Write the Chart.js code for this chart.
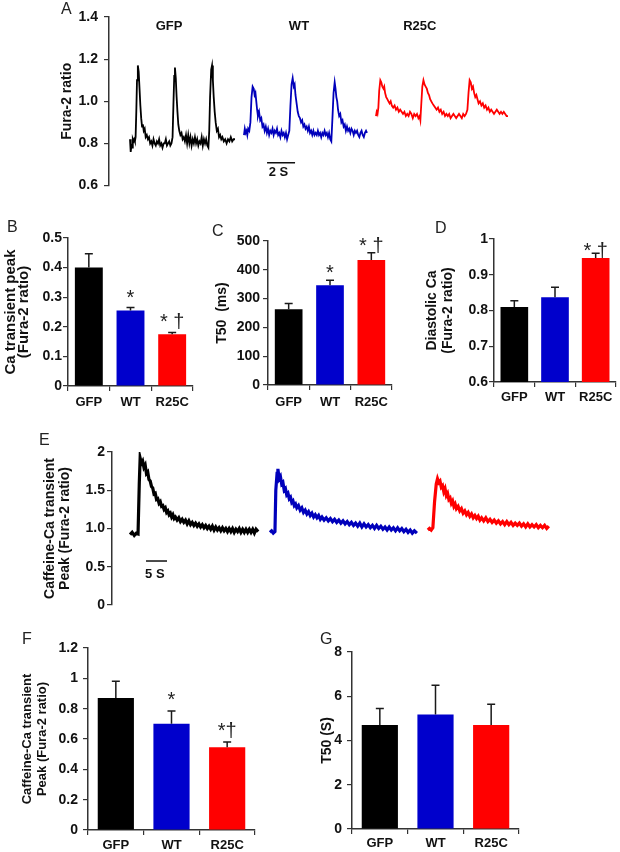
<!DOCTYPE html>
<html>
<head>
<meta charset="utf-8">
<script src="https://cdn.jsdelivr.net/npm/chart.js@4.4.1/dist/chart.umd.min.js"></script>
<style>
body { margin: 0; background: #fff; }
#fig { position: relative; width: 620px; height: 852px; font-family: "Liberation Sans", Arial, sans-serif; }
#fig canvas { position: absolute; }
.lab { position: absolute; font-size: 16px; line-height: 16px; color: #222; }
</style>
</head>
<body>
<div id="fig">
  <canvas id="cA" width="530" height="200" style="left:0;top:0"></canvas>
  <canvas id="cB" width="200" height="215" style="left:0;top:200px"></canvas>
  <canvas id="cC" width="200" height="215" style="left:200px;top:200px"></canvas>
  <canvas id="cD" width="220" height="215" style="left:400px;top:200px"></canvas>
  <canvas id="cE" width="570" height="190" style="left:0;top:430px"></canvas>
  <canvas id="cF" width="270" height="232" style="left:0;top:620px"></canvas>
  <canvas id="cG" width="280" height="232" style="left:270px;top:620px"></canvas>
  <div class="lab" style="left:61px;top:1px">A</div>
  <div class="lab" style="left:7px;top:219px">B</div>
  <div class="lab" style="left:212px;top:223px">C</div>
  <div class="lab" style="left:435px;top:220px">D</div>
  <div class="lab" style="left:39px;top:432px">E</div>
  <div class="lab" style="left:22px;top:631px">F</div>
  <div class="lab" style="left:320px;top:631px">G</div>
</div>
<script>
const groups = ['GFP', 'WT', 'R25C'];
const barColors = ['#000000', '#0000cc', '#ff0000'];
const traceColors = ['#000000', '#0000bb', '#ff0000'];

// A: field-stimulated Ca transients, [time s, Fura-2 ratio]
const gfpTrace = [[1.50,0.82],[1.55,0.76],[1.60,0.79],[1.65,0.78],[1.70,0.82],[1.75,0.81],[1.80,0.82],[1.85,0.81],[1.90,0.83],[1.95,0.95],[2.00,1.10],[2.06,1.17],[2.12,1.14],[2.18,1.06],[2.24,0.98],[2.30,0.92],[2.36,0.88],[2.42,0.89],[2.48,0.86],[2.55,0.87],[2.62,0.83],[2.70,0.84],[2.78,0.82],[2.86,0.83],[2.94,0.80],[3.02,0.81],[3.10,0.79],[3.18,0.82],[3.26,0.80],[3.34,0.79],[3.42,0.81],[3.50,0.80],[3.58,0.82],[3.66,0.79],[3.74,0.80],[3.82,0.78],[3.90,0.80],[3.98,0.80],[4.06,0.82],[4.14,0.79],[4.22,0.80],[4.30,0.81],[4.38,0.79],[4.46,0.80],[4.54,0.83],[4.60,0.98],[4.66,1.12],[4.71,1.16],[4.77,1.11],[4.83,1.02],[4.89,0.95],[4.95,0.89],[5.02,0.86],[5.10,0.84],[5.18,0.85],[5.26,0.82],[5.34,0.83],[5.42,0.81],[5.50,0.84],[5.58,0.80],[5.66,0.84],[5.74,0.80],[5.82,0.83],[5.90,0.79],[5.98,0.82],[6.06,0.80],[6.14,0.83],[6.22,0.80],[6.30,0.82],[6.38,0.79],[6.46,0.81],[6.54,0.80],[6.62,0.83],[6.70,0.79],[6.78,0.82],[6.86,0.80],[6.94,0.82],[7.02,0.79],[7.10,0.78],[7.16,0.86],[7.22,1.02],[7.30,1.15],[7.36,1.17],[7.42,1.10],[7.48,1.02],[7.55,0.95],[7.62,0.90],[7.70,0.86],[7.78,0.87],[7.86,0.83],[7.94,0.84],[8.02,0.82],[8.10,0.83],[8.20,0.81],[8.30,0.82],[8.40,0.80],[8.50,0.82],[8.60,0.81],[8.70,0.83],[8.80,0.81],[8.90,0.82],[9.00,0.82]];
const wtTrace = [[9.64,0.84],[9.70,0.87],[9.76,0.85],[9.82,0.86],[9.88,0.84],[9.94,0.87],[10.02,0.86],[10.10,0.90],[10.18,1.02],[10.26,1.07],[10.34,1.06],[10.40,1.03],[10.46,1.04],[10.52,1.00],[10.58,0.96],[10.64,0.93],[10.72,0.95],[10.80,0.91],[10.88,0.92],[10.96,0.88],[11.04,0.89],[11.12,0.86],[11.20,0.88],[11.28,0.85],[11.36,0.87],[11.44,0.84],[11.52,0.86],[11.60,0.85],[11.68,0.87],[11.76,0.84],[11.84,0.86],[11.92,0.85],[12.00,0.87],[12.08,0.84],[12.16,0.85],[12.24,0.83],[12.32,0.86],[12.40,0.84],[12.48,0.85],[12.56,0.83],[12.64,0.85],[12.72,0.82],[12.80,0.84],[12.88,0.86],[12.96,0.98],[13.04,1.08],[13.12,1.11],[13.20,1.07],[13.26,1.08],[13.32,1.03],[13.40,0.99],[13.48,0.95],[13.56,0.93],[13.64,0.92],[13.72,0.90],[13.80,0.91],[13.88,0.88],[13.96,0.89],[14.04,0.87],[14.12,0.88],[14.20,0.86],[14.28,0.88],[14.36,0.85],[14.44,0.86],[14.52,0.84],[14.60,0.86],[14.68,0.84],[14.76,0.85],[14.84,0.84],[14.92,0.86],[15.00,0.84],[15.08,0.85],[15.16,0.83],[15.24,0.85],[15.32,0.84],[15.40,0.86],[15.48,0.84],[15.56,0.85],[15.64,0.83],[15.72,0.85],[15.80,0.82],[15.88,0.81],[15.96,0.92],[16.04,1.04],[16.12,1.09],[16.18,1.06],[16.24,1.02],[16.30,1.00],[16.36,0.96],[16.44,0.93],[16.52,0.94],[16.60,0.90],[16.68,0.91],[16.76,0.88],[16.84,0.89],[16.92,0.86],[17.00,0.88],[17.08,0.86],[17.16,0.87],[17.24,0.85],[17.32,0.87],[17.40,0.86],[17.48,0.84],[17.56,0.86],[17.64,0.85],[17.72,0.86],[17.80,0.84],[17.88,0.83],[17.96,0.85],[18.04,0.86],[18.12,0.84],[18.20,0.83],[18.28,0.85],[18.36,0.86],[18.43,0.85]];
const r25cTrace = [[19.07,0.93],[19.12,0.95],[19.18,0.94],[19.24,0.97],[19.30,1.05],[19.38,1.10],[19.45,1.09],[19.52,1.07],[19.60,1.06],[19.66,1.07],[19.72,1.04],[19.80,1.02],[19.88,1.01],[19.96,1.00],[20.04,0.99],[20.12,1.00],[20.20,0.98],[20.30,0.97],[20.40,0.98],[20.50,0.96],[20.60,0.97],[20.70,0.95],[20.80,0.96],[20.90,0.95],[21.00,0.94],[21.10,0.95],[21.20,0.93],[21.30,0.94],[21.40,0.93],[21.50,0.95],[21.60,0.94],[21.70,0.92],[21.80,0.94],[21.90,0.93],[22.00,0.94],[22.10,0.92],[22.18,0.93],[22.24,0.91],[22.30,0.98],[22.38,1.07],[22.46,1.10],[22.54,1.08],[22.62,1.07],[22.70,1.06],[22.78,1.04],[22.86,1.03],[22.94,1.01],[23.02,1.00],[23.10,0.99],[23.20,0.98],[23.30,0.97],[23.40,0.96],[23.50,0.97],[23.60,0.95],[23.70,0.96],[23.80,0.94],[23.90,0.95],[24.00,0.93],[24.10,0.94],[24.20,0.93],[24.30,0.94],[24.40,0.92],[24.50,0.93],[24.60,0.94],[24.70,0.93],[24.80,0.92],[24.90,0.93],[25.00,0.94],[25.10,0.93],[25.20,0.92],[25.30,0.94],[25.40,0.93],[25.50,0.94],[25.60,0.96],[25.68,1.04],[25.76,1.10],[25.84,1.09],[25.92,1.06],[26.00,1.07],[26.08,1.04],[26.16,1.02],[26.24,1.03],[26.32,1.01],[26.40,0.99],[26.50,1.00],[26.60,0.98],[26.70,0.99],[26.80,0.97],[26.90,0.98],[27.00,0.96],[27.10,0.97],[27.20,0.95],[27.30,0.96],[27.40,0.95],[27.50,0.94],[27.60,0.95],[27.70,0.96],[27.80,0.95],[27.90,0.94],[28.00,0.95],[28.10,0.94],[28.20,0.95],[28.30,0.94],[28.40,0.93],[28.50,0.93]];
const aScaleBar = [[11.29, 0.708], [13.29, 0.708]]; // 2 s
const aTicks = [0.6, 0.8, 1.0, 1.2, 1.4];
const aTickLabels = ['0.6', '0.8', '1.0', '1.2', '1.4'];

// B: Ca transient peak
const peakMean = [0.40, 0.255, 0.175];
const peakSem = [0.047, 0.010, 0.006];
const peakSig = ['', '*', '* \u2020'];
const peakTicks = [0, 0.1, 0.2, 0.3, 0.4, 0.5];
const peakTickLabels = ['0', '0.1', '0.2', '0.3', '0.4', '0.5'];

// C: T50 (ms)
const t50Mean = [263, 346, 434];
const t50Sem = [20, 18, 25];
const t50Sig = ['', '*', '* \u2020'];
const t50Ticks = [0, 100, 200, 300, 400, 500];
const t50TickLabels = ['0', '100', '200', '300', '400', '500'];

// D: diastolic Ca
const diaMean = [0.81, 0.837, 0.947];
const diaSem = [0.017, 0.028, 0.013];
const diaSig = ['', '', '* \u2020'];
const diaTicks = [0.6, 0.7, 0.8, 0.9, 1];
const diaTickLabels = ['0.6', '0.7', '0.8', '0.9', '1'];

// E: caffeine-induced Ca transients, [time s, Fura-2 ratio]
const gfpCaf = [[4.3,0.92],[4.8,0.95],[5.3,0.91],[5.8,0.94],[6.2,0.93],[6.5,1.60],[6.7,1.92],[7.0,1.85],[7.3,1.88],[7.6,1.80],[7.9,1.83],[8.2,1.72],[8.5,1.74],[8.8,1.64],[9.1,1.62],[9.4,1.55],[9.7,1.53],[10.0,1.45],[10.3,1.46],[10.6,1.38],[10.9,1.39],[11.2,1.33],[11.5,1.35],[11.8,1.29],[12.1,1.30],[12.4,1.25],[12.7,1.27],[13.0,1.21],[13.3,1.23],[13.6,1.18],[13.9,1.20],[14.2,1.15],[14.5,1.18],[14.8,1.13],[15.1,1.15],[15.5,1.11],[15.9,1.14],[16.3,1.09],[16.7,1.12],[17.1,1.08],[17.5,1.11],[17.9,1.06],[18.3,1.10],[18.7,1.05],[19.1,1.08],[19.5,1.04],[19.9,1.07],[20.3,1.03],[20.7,1.06],[21.1,1.02],[21.5,1.05],[21.9,1.01],[22.3,1.04],[22.7,1.00],[23.1,1.03],[23.5,0.99],[23.9,1.03],[24.3,0.98],[24.7,1.02],[25.1,0.98],[25.5,1.01],[25.9,0.97],[26.3,1.01],[26.7,0.97],[27.1,1.00],[27.5,0.96],[27.9,1.00],[28.3,0.96],[28.7,1.00],[29.1,0.95],[29.5,0.99],[29.9,0.96],[30.3,1.00],[30.7,0.95],[31.1,0.99],[31.5,0.95],[31.9,0.99],[32.3,0.95],[32.7,0.99],[33.1,0.95],[33.5,0.99],[33.9,0.94],[34.3,0.99],[34.8,0.96]];
const wtCaf = [[37.6,0.95],[38.0,0.97],[38.4,0.94],[38.8,0.96],[39.0,1.50],[39.3,1.72],[39.5,1.78],[39.8,1.65],[40.1,1.68],[40.4,1.58],[40.7,1.60],[41.0,1.50],[41.3,1.52],[41.6,1.44],[41.9,1.46],[42.2,1.39],[42.5,1.41],[42.8,1.34],[43.1,1.36],[43.4,1.30],[43.7,1.32],[44.0,1.27],[44.4,1.30],[44.8,1.24],[45.2,1.27],[45.6,1.21],[46.0,1.24],[46.4,1.19],[46.8,1.22],[47.2,1.17],[47.6,1.20],[48.0,1.15],[48.4,1.18],[48.8,1.14],[49.2,1.17],[49.6,1.12],[50.0,1.15],[50.5,1.11],[51.0,1.14],[51.5,1.10],[52.0,1.13],[52.5,1.09],[53.0,1.12],[53.5,1.08],[54.0,1.11],[54.5,1.07],[55.0,1.10],[55.5,1.06],[56.0,1.09],[56.5,1.05],[57.0,1.08],[57.5,1.04],[58.0,1.07],[58.5,1.03],[59.0,1.07],[59.5,1.02],[60.0,1.06],[60.5,1.02],[61.0,1.05],[61.5,1.01],[62.0,1.04],[62.5,1.00],[63.0,1.04],[63.5,1.00],[64.0,1.03],[64.5,0.99],[65.0,1.02],[65.5,0.98],[66.0,1.02],[66.5,0.98],[67.0,1.01],[67.5,0.97],[68.0,1.01],[68.5,0.97],[69.0,1.00],[69.5,0.96],[70.0,0.99],[70.5,0.95],[71.0,0.98],[71.5,0.94],[72.0,0.97],[72.6,0.94]];
const r25cCaf = [[75.2,0.98],[75.6,1.00],[76.0,0.98],[76.4,1.01],[76.8,1.35],[77.2,1.58],[77.5,1.65],[77.8,1.60],[78.1,1.62],[78.4,1.54],[78.7,1.56],[79.0,1.48],[79.3,1.52],[79.6,1.43],[79.9,1.46],[80.2,1.38],[80.5,1.40],[80.8,1.33],[81.1,1.36],[81.4,1.29],[81.7,1.32],[82.0,1.26],[82.4,1.29],[82.8,1.23],[83.2,1.26],[83.6,1.20],[84.0,1.23],[84.4,1.18],[84.8,1.21],[85.2,1.16],[85.6,1.19],[86.0,1.14],[86.4,1.17],[86.8,1.13],[87.2,1.16],[87.6,1.11],[88.0,1.14],[88.5,1.10],[89.0,1.14],[89.5,1.09],[90.0,1.12],[90.5,1.08],[91.0,1.11],[91.5,1.07],[92.0,1.10],[92.5,1.06],[93.0,1.09],[93.5,1.05],[94.0,1.09],[94.5,1.05],[95.0,1.08],[95.5,1.04],[96.0,1.07],[96.5,1.04],[97.0,1.07],[97.5,1.03],[98.0,1.06],[98.5,1.02],[99.0,1.06],[99.5,1.02],[100.0,1.05],[100.5,1.02],[101.0,1.05],[101.5,1.01],[102.0,1.04],[102.5,1.01],[103.0,1.04],[103.5,1.00],[104.0,1.03]];
const eScaleBar = [[8.1, 0.575], [13.1, 0.575]]; // 5 s
const eTicks = [0, 0.5, 1, 1.5, 2];
const eTickLabels = ['0', '0.5', '1.0', '1.5', '2'];

// F: caffeine Ca transient peak
const cafMean = [0.87, 0.70, 0.546];
const cafSem = [0.11, 0.085, 0.034];
const cafSig = ['', '*', '*\u2020'];
const cafTicks = [0, 0.2, 0.4, 0.6, 0.8, 1, 1.2];
const cafTickLabels = ['0', '0.2', '0.4', '0.6', '0.8', '1', '1.2'];

// G: caffeine T50 (s)
const cafT50Mean = [4.7, 5.18, 4.7];
const cafT50Sem = [0.75, 1.32, 0.94];
const cafT50Ticks = [0, 2, 4, 6, 8];
const cafT50TickLabels = ['0', '2', '4', '6', '8'];

const FONT = '"Liberation Sans", Arial, sans-serif';
function bold(size, lh) { return { family: FONT, size: size, weight: 'bold', lineHeight: lh || 1.2 }; }

// error bars, significance marks and free text labels
const extras = {
    id: 'extras',
    afterDatasetsDraw(chart, args, opts) {
        const ctx = chart.ctx;
        const xs = chart.scales.x, ys = chart.scales.y;
        ctx.save();
        if (opts.sem) {
            const mean = chart.data.datasets[0].data;
            chart.getDatasetMeta(0).data.forEach((bar, i) => {
                const yTop = ys.getPixelForValue(mean[i] + opts.sem[i]);
                ctx.strokeStyle = '#1a1a1a';
                ctx.lineWidth = 1.5;
                ctx.beginPath();
                ctx.moveTo(bar.x, bar.y);
                ctx.lineTo(bar.x, yTop);
                ctx.moveTo(bar.x - 4, yTop);
                ctx.lineTo(bar.x + 4, yTop);
                ctx.stroke();
                if (opts.sig && opts.sig[i]) {
                    ctx.fillStyle = '#222';
                    ctx.font = '20px ' + FONT;
                    ctx.textAlign = 'center';
                    ctx.textBaseline = 'alphabetic';
                    ctx.fillText(opts.sig[i], bar.x, yTop - opts.gap + 11);
                }
            });
        }
        (opts.texts || []).forEach(t => {
            ctx.fillStyle = '#111';
            ctx.font = 'bold 13px ' + FONT;
            ctx.textAlign = 'center';
            ctx.textBaseline = 'middle';
            ctx.fillText(t.text, xs.getPixelForValue(t.x), ys.getPixelForValue(t.y));
        });
        ctx.restore();
    }
};

function yAxis(vals, labels, title, L) {
    return {
        min: vals[0],
        max: vals[vals.length - 1],
        afterBuildTicks: s => { s.ticks = vals.map(v => ({ value: v })); },
        afterFit: s => { s.width = L.yw; },
        ticks: { callback: (v, i) => labels[i], color: '#111', font: bold(14), padding: L.ypad },
        grid: { drawOnChartArea: false, drawTicks: true, tickLength: 5, color: '#333', lineWidth: 1.2 },
        border: { display: true, color: '#333', width: 1.5 },
        title: { display: true, text: title, color: '#111', font: bold(L.ts, L.tlh), padding: { top: L.tpad, bottom: 0 } }
    };
}

function barChart(id, mean, sem, sig, ticks, tickLabels, title, L) {
    new Chart(document.getElementById(id), {
        type: 'bar',
        data: {
            labels: groups,
            datasets: [{ data: mean, backgroundColor: barColors, barPercentage: L.bar, categoryPercentage: 1 }]
        },
        options: {
            responsive: false, animation: false, devicePixelRatio: 1,
            layout: { padding: { left: 0, top: L.top, right: L.right, bottom: 0 } },
            plugins: { legend: { display: false }, tooltip: { enabled: false }, extras: { sem: sem, sig: sig, gap: L.gap } },
            scales: {
                x: {
                    afterFit: s => { s.height = L.xh; },
                    ticks: { color: '#111', font: bold(13), padding: L.xpad },
                    grid: { offset: true, drawOnChartArea: false, drawTicks: true, tickLength: 5, color: '#333', lineWidth: 1.2 },
                    border: { display: true, color: '#333', width: 1.5 }
                },
                y: yAxis(ticks, tickLabels, title, L)
            }
        },
        plugins: [extras]
    });
}

function traceChart(id, traces, width, scaleBar, ticks, tickLabels, title, texts, L) {
    const sets = traces.map((tr, i) => ({
        data: tr.map(p => ({ x: p[0], y: p[1] })),
        borderColor: traceColors[i], borderWidth: L.lw, pointRadius: 0, tension: 0
    }));
    sets.push({ data: scaleBar.map(p => ({ x: p[0], y: p[1] })), borderColor: '#111', borderWidth: 1.5, pointRadius: 0 });
    new Chart(document.getElementById(id), {
        type: 'line',
        data: { datasets: sets },
        options: {
            responsive: false, animation: false, devicePixelRatio: 1,
            layout: { padding: { left: 0, top: L.top, right: L.right, bottom: L.bottom } },
            plugins: { legend: { display: false }, tooltip: { enabled: false }, extras: { texts: texts } },
            scales: {
                x: { type: 'linear', display: false, min: 0, max: width / L.pxPerS },
                y: yAxis(ticks, tickLabels, title, L)
            }
        },
        plugins: [extras]
    });
}

traceChart('cA', [gfpTrace, wtTrace, r25cTrace], 411, aScaleBar, aTicks, aTickLabels, 'Fura-2 ratio',
    [{ x: 4.29, y: 1.353, text: 'GFP' }, { x: 13.57, y: 1.353, text: 'WT' }, { x: 22.2, y: 1.353, text: 'R25C' }, { x: 12.1, y: 0.661, text: '2 S' }],
    { top: 17, right: 10, bottom: 12, yw: 109, ts: 14, tpad: 58.6, ypad: 6, lw: 1.8, pxPerS: 14 });

barChart('cB', peakMean, peakSem, peakSig, peakTicks, peakTickLabels, ['Ca transient peak', '(Fura-2 ratio)'],
    { top: 38, right: 7, yw: 68, xh: 29, ts: 15, tlh: 0.9, tpad: 4, ypad: 1, xpad: 4, gap: 15, bar: 0.67 });
barChart('cC', t50Mean, t50Sem, t50Sig, t50Ticks, t50TickLabels, 'T50  (ms)',
    { top: 41, right: 8, yw: 68, xh: 30, ts: 14, tpad: 13.6, ypad: 3, xpad: 5, gap: 12, bar: 0.67 });
barChart('cD', diaMean, diaSem, diaSig, diaTicks, diaTickLabels, ['Diastolic Ca', '(Fura-2 ratio)'],
    { top: 39, right: 4, yw: 94, xh: 33, ts: 14, tlh: 1.15, tpad: 24, ypad: 1, xpad: 3, gap: 7, bar: 0.68 });

traceChart('cE', [gfpCaf, wtCaf, r25cCaf], 448, eScaleBar, eTicks, eTickLabels, ['Caffeine-Ca transient', 'Peak (Fura-2 ratio)'],
    [{ x: 10.2, y: 0.405, text: '5 S' }],
    { top: 22, right: 10, bottom: 15, yw: 112, ts: 14, tlh: 1.07, tpad: 42.5, ypad: 2, lw: 3.2, pxPerS: 4.2 });

barChart('cF', cafMean, cafSem, cafSig, cafTicks, cafTickLabels, ['Caffeine-Ca transient', 'Peak (Fura-2 ratio)'],
    { top: 28, right: 15, yw: 88, xh: 22, ts: 13, tlh: 1.15, tpad: 19.5, ypad: 5, xpad: 3, gap: 16, bar: 0.65 });
barChart('cG', cafT50Mean, cafT50Sem, null, cafT50Ticks, cafT50TickLabels, 'T50 (S)',
    { top: 32, right: 31, yw: 82, xh: 23, ts: 14, tpad: 48.6, ypad: 5, xpad: 2, gap: 0, bar: 0.65 });
</script>
</body>
</html>
